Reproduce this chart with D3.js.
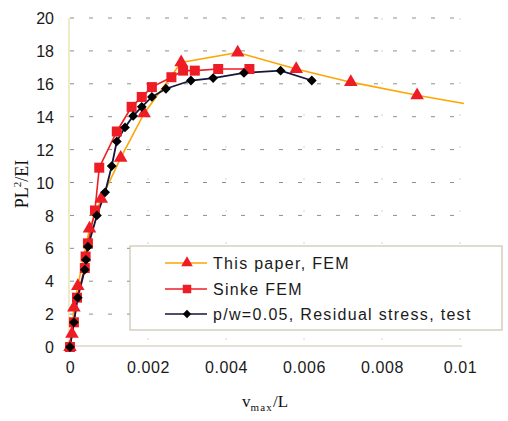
<!DOCTYPE html>
<html><head><meta charset="utf-8">
<script src="https://cdn.jsdelivr.net/npm/d3@7"></script>
<style>
html,body{margin:0;padding:0;background:#fff;}
svg{display:block;}
</style></head>
<body>
<svg id="chart" width="508" height="421"></svg>
<script>
// ---- data ----
const xTicks = [0, 0.002, 0.004, 0.006, 0.008, 0.01];
const xTickLabels = ["0", "0.002", "0.004", "0.006", "0.008", "0.01"];
const yTicks = [0, 2, 4, 6, 8, 10, 12, 14, 16, 18, 20];
const seriesNames = ["This paper, FEM", "Sinke FEM", "p/w=0.05, Residual stress, test"];

const paperX = [0, 0.00005, 0.0001, 0.0002, 0.0005, 0.0008, 0.0013, 0.0019, 0.00285, 0.0043, 0.0058, 0.0072, 0.0089, 0.0101];
const paperY = [0, 0.8, 2.4, 3.7, 7.2, 9.0, 11.5, 14.2, 17.3, 17.9, 16.9, 16.1, 15.3, 14.8];
const paperMarker = [1,1,1,1,1,1,1,1,1,1,1,1,1,0];

const sinkeX = [0, 0.0001, 0.00018, 0.00038, 0.0004, 0.00046, 0.00064, 0.00075, 0.0012, 0.00158, 0.00184, 0.0021, 0.0026, 0.0029, 0.0032, 0.0038, 0.0046];
const sinkeY = [0, 1.5, 3.0, 4.8, 5.5, 6.3, 8.3, 10.9, 13.1, 14.6, 15.2, 15.8, 16.4, 16.8, 16.8, 16.9, 16.9];

const testX = [0, 0.0001, 0.0002, 0.00038, 0.00041, 0.00046, 0.00069, 0.0009, 0.00107, 0.0012, 0.00141, 0.00162, 0.00184, 0.0021, 0.00246, 0.0031, 0.00367, 0.00446, 0.0054, 0.0062];
const testY = [0, 1.5, 3.0, 4.7, 5.3, 6.1, 8.0, 9.4, 11.0, 12.5, 13.35, 14.05, 14.6, 15.2, 15.7, 16.2, 16.35, 16.66, 16.8, 16.2];

// ---- layout ----
const svg = d3.select("#chart");
const x = d3.scaleLinear().domain([0, 0.01]).range([70, 460]);
const y = d3.scaleLinear().domain([0, 20]).range([347, 18]);
const sans = "'Liberation Sans', Arial, sans-serif";
const serif = "'Liberation Serif', 'Times New Roman', serif";

// grid
const gGrid = svg.append("g");
gGrid.selectAll("line.h").data(yTicks.filter(d => d > 0)).join("line")
  .attr("x1", 70).attr("x2", 462)
  .attr("y1", d => y(d)).attr("y2", d => y(d))
  .attr("stroke", "#8f8f86").attr("stroke-width", 1)
  .attr("stroke-dasharray", "4,15");
gGrid.selectAll("line.v").data(xTicks.filter(d => d > 0)).join("line")
  .attr("x1", d => x(d)).attr("x2", d => x(d))
  .attr("y1", 18).attr("y2", 346)
  .attr("stroke", "#ddd6b8").attr("stroke-width", 1)
  .attr("stroke-dasharray", "2,30");

// axes lines
svg.append("line").attr("x1", 69).attr("x2", 69).attr("y1", 18).attr("y2", 347)
  .attr("stroke", "#e6dca0").attr("stroke-width", 1.2);
svg.append("line").attr("x1", 69).attr("x2", 462).attr("y1", 346).attr("y2", 346)
  .attr("stroke", "#c9c2a8").attr("stroke-width", 1.2);

// tick labels via axes
const yAxis = svg.append("g").attr("transform", "translate(69,0)")
  .call(d3.axisLeft(y).tickValues(yTicks).tickSize(0).tickPadding(15).tickFormat(d3.format("d")));
yAxis.select(".domain").remove();
yAxis.selectAll("text").attr("font-family", sans).attr("font-size", 16).attr("fill", "#1a1a1a").attr("dy", "0.35em");

const xAxis = svg.append("g").attr("transform", "translate(0,346)")
  .call(d3.axisBottom(x).tickValues(xTicks).tickSize(0).tickPadding(16).tickFormat((d, i) => xTickLabels[i]));
xAxis.select(".domain").remove();
xAxis.selectAll("text").attr("font-family", sans).attr("font-size", 16).attr("fill", "#1a1a1a")
  .attr("letter-spacing", "0.6px");

// axis titles
const yt = svg.append("text").attr("transform", "translate(28,184) rotate(-90)")
  .attr("text-anchor", "middle").attr("font-family", serif).attr("font-size", 18).attr("fill", "#111");
yt.append("tspan").text("PL");
yt.append("tspan").attr("font-size", 11).attr("dy", -7).text("2");
yt.append("tspan").attr("dy", 7).text("/EI");

const xt = svg.append("text").attr("x", 265).attr("y", 407)
  .attr("text-anchor", "middle").attr("font-family", serif).attr("font-size", 17).attr("fill", "#111");
xt.append("tspan").text("v");
xt.append("tspan").attr("font-size", 11).attr("dy", 4).attr("letter-spacing", "1.2px").text("max");
xt.append("tspan").attr("dy", -4).text("/L");

// lines
const line = d3.line().x(d => x(d[0])).y(d => y(d[1]));
const paper = paperX.map((v, i) => [v, paperY[i], paperMarker[i]]);
const sinke = sinkeX.map((v, i) => [v, sinkeY[i]]);
const test = testX.map((v, i) => [v, testY[i]]);

const cPaperLine = "#ffa500", cRed = "#ee1c24", cTestLine = "#15153a";

svg.append("path").datum(paper).attr("d", line).attr("fill", "none").attr("stroke", cPaperLine).attr("stroke-width", 1.6);
svg.append("path").datum(sinke).attr("d", line).attr("fill", "none").attr("stroke", cRed).attr("stroke-width", 1.6);
svg.append("path").datum(test).attr("d", line).attr("fill", "none").attr("stroke", cTestLine).attr("stroke-width", 1.8);

const tri = d3.symbol().type(d3.symbolTriangle).size(80);
const sq = d3.symbol().type(d3.symbolSquare).size(100);
const dia = d3.symbol().type(d3.symbolSquare).size(48);

svg.append("g").selectAll("path").data(sinke).join("path")
  .attr("d", sq).attr("transform", d => `translate(${x(d[0])},${y(d[1])})`).attr("fill", cRed);
svg.append("g").selectAll("path").data(paper.filter(d => d[2])).join("path")
  .attr("d", tri).attr("transform", d => `translate(${x(d[0])},${y(d[1])})`).attr("fill", cRed);
svg.append("g").selectAll("path").data(test).join("path")
  .attr("d", dia).attr("transform", d => `translate(${x(d[0])},${y(d[1])}) rotate(45)`).attr("fill", "#000");

// legend
const lg = svg.append("g");
lg.append("rect").attr("x", 130).attr("y", 246).attr("width", 372).attr("height", 84)
  .attr("fill", "#fff").attr("stroke", "#bdb7a4").attr("stroke-width", 1);
const rowsY = [263, 289, 314];
const lineColors = [cPaperLine, cRed, cTestLine];
const markers = [tri, sq, dia];
const markerRot = [0, 0, 45];
const markerFill = [cRed, cRed, "#000"];
seriesNames.forEach((name, i) => {
  lg.append("line").attr("x1", 165).attr("x2", 207).attr("y1", rowsY[i]).attr("y2", rowsY[i])
    .attr("stroke", lineColors[i]).attr("stroke-width", 1.6);
  lg.append("path").attr("d", markers[i]).attr("transform", `translate(187,${rowsY[i]}) rotate(${markerRot[i]}) scale(0.85)`).attr("fill", markerFill[i]);
  lg.append("text").attr("x", 213).attr("y", rowsY[i]).attr("dy", "0.36em")
    .attr("font-family", sans).attr("font-size", 16).attr("letter-spacing", "1.3px").attr("fill", "#1a1a1a")
    .text(name);
});
</script>
</body></html>
